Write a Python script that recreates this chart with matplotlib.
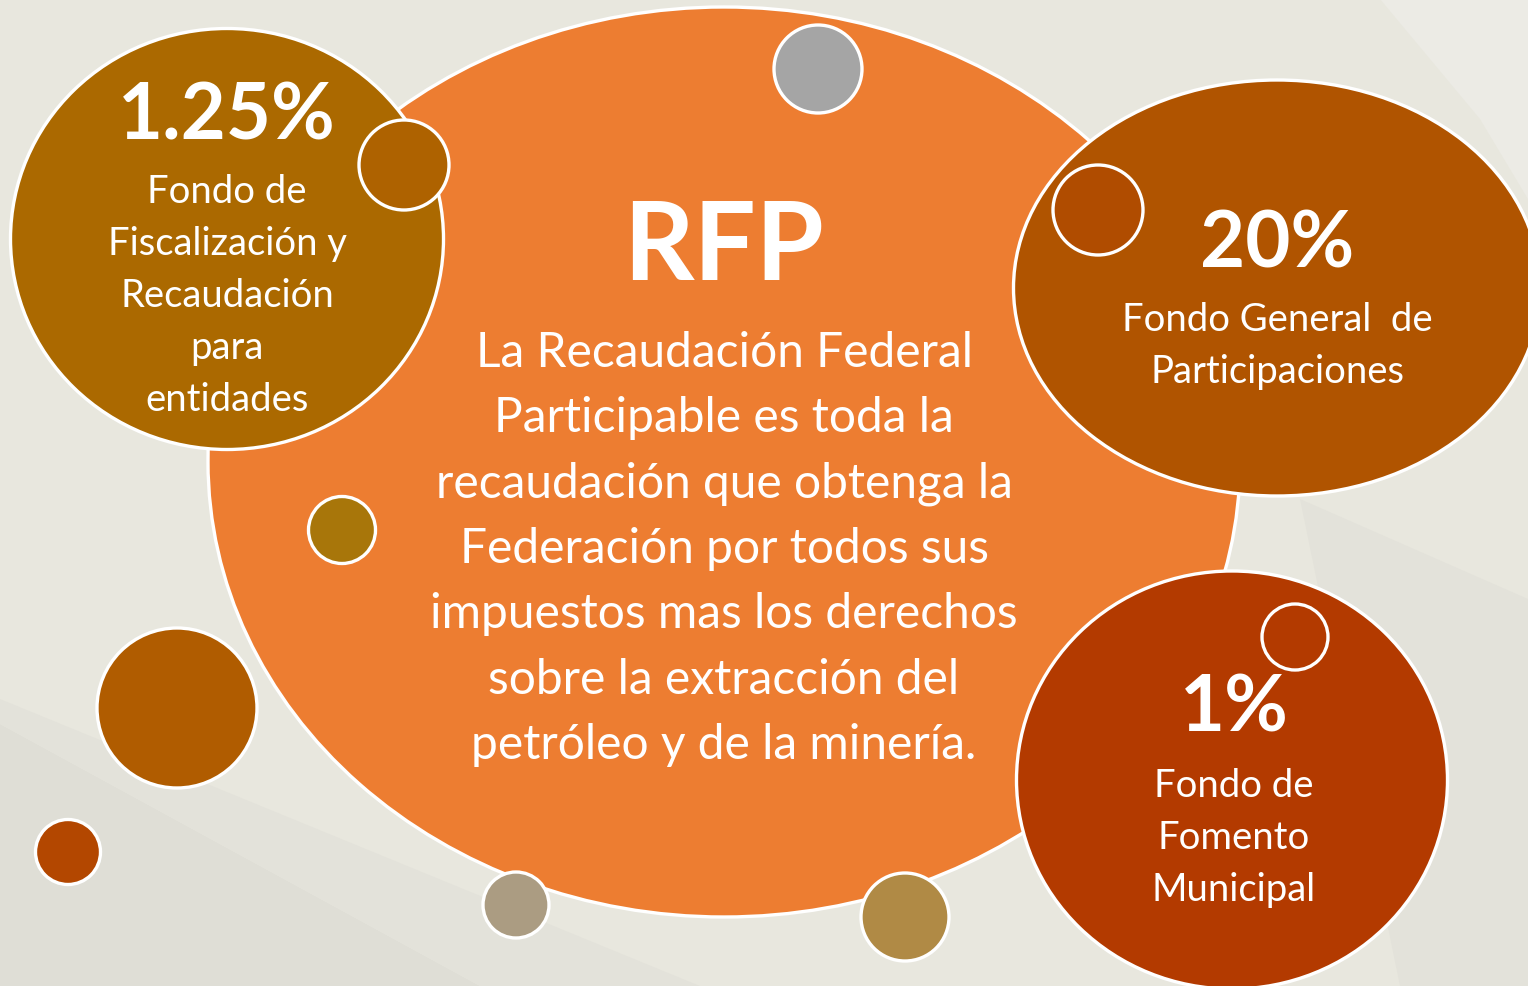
import matplotlib
matplotlib.use('Agg')
import matplotlib.pyplot as plt
from matplotlib.patches import Ellipse, Polygon

# fund shares of the RFP (percent) and their names
shares = [1.25, 20, 1]
fund_names = [
    ['Fondo de', 'Fiscalización y', 'Recaudación', 'para', 'entidades'],
    ['Fondo General  de', 'Participaciones'],
    ['Fondo de', 'Fomento', 'Municipal'],
]
title = 'RFP'
definition = [
    'La Recaudación Federal',
    'Participable es toda la',
    'recaudación que obtenga la',
    'Federación por todos sus',
    'impuestos mas los derechos',
    'sobre la extracción del',
    'petróleo y de la minería.',
]

W, H = 1528, 987
FONT = 'Lato'

fig = plt.figure(figsize=(W / 100, H / 100), dpi=100)
ax = fig.add_axes([0, 0, 1, 1])
ax.set_xlim(0, W)
ax.set_ylim(H, 0)
ax.set_aspect('equal')
ax.axis('off')
fig.patch.set_facecolor('#E8E7DE')

# faint background shapes
bg_shapes = [
    ([(0, 725), (480, 987), (0, 987)], '#DFDED6'),
    ([(480, 987), (0, 725), (0, 700), (700, 987)], '#E3E2DA'),
    ([(1380, 0), (1528, 0), (1528, 200), (1480, 120)], '#ECEBE5'),
    ([(1300, 500), (1528, 600), (1528, 987), (1400, 987)], '#E3E2DA'),
]
for pts, col in bg_shapes:
    ax.add_patch(Polygon(pts, closed=True, facecolor=col, edgecolor='none', zorder=0))

EDGE = dict(edgecolor='white', linewidth=2.4)

# main bubble
ax.add_patch(Ellipse((724, 463), 1032, 910, facecolor='#ED7D31', zorder=1, **EDGE))

# three fund bubbles: (center, width, height, colour)
fund_bubbles = [
    ((227, 240), 433, 421, '#AB6900'),
    ((1277, 289), 527, 416, '#B05400'),
    ((1232, 781), 431, 418, '#B33A00'),
]
for (c, w, h, col) in fund_bubbles:
    ax.add_patch(Ellipse(c, w, h, facecolor=col, zorder=2, **EDGE))

# decorative small bubbles
small_bubbles = [
    ((818, 70), 88, '#A5A5A5'),
    ((404, 166), 90, '#AE6200'),
    ((1098, 211), 90, '#B04C00'),
    ((342, 531), 67, '#A8760A'),
    ((177, 709), 160, '#B05C00'),
    ((68, 853), 65, '#B34700'),
    ((516, 906), 66, '#AB9C82'),
    ((905, 918), 88, '#B08A45'),
    ((1295, 638), 66, '#B33A00'),
]
for c, d, col in small_bubbles:
    ax.add_patch(Ellipse(c, d, d, facecolor=col, zorder=3, **EDGE))

txt = dict(color='white', ha='center', va='baseline', family=FONT, zorder=5)

# central definition
ax.text(724, 280, title, fontsize=79, fontweight='bold', **txt)
for i, line in enumerate(definition):
    ax.text(724, 367 + i * 65.3, line, fontsize=34.5, **txt)

# fund bubbles text
layout = [
    (227, 139, 203, 52),
    (1277, 267, 331, 52),
    (1234, 732, 797, 52),
]
for share, names, (x, y_pct, y0, step) in zip(shares, fund_names, layout):
    ax.text(x, y_pct, f'{share:g}%', fontsize=56, fontweight='bold', **txt)
    for j, line in enumerate(names):
        ax.text(x, y0 + j * step, line, fontsize=27.5, **txt)

fig.savefig('out.png', dpi=100, facecolor=fig.get_facecolor())
